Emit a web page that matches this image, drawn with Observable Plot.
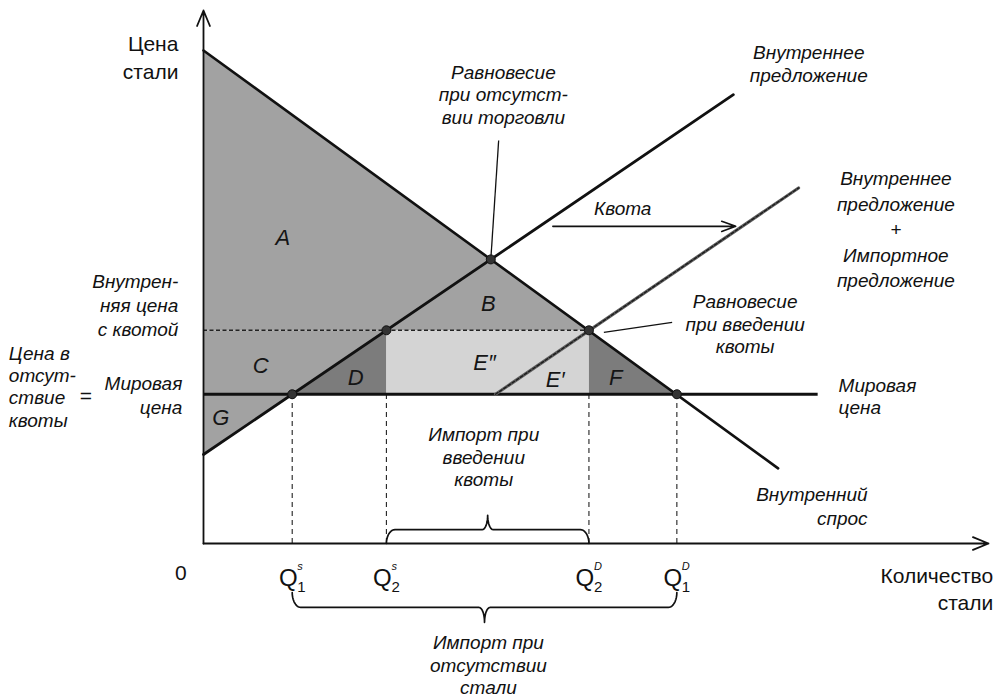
<!DOCTYPE html>
<html>
<head>
<meta charset="utf-8">
<script src="https://cdn.jsdelivr.net/npm/d3@7"></script>
<script src="https://cdn.jsdelivr.net/npm/@observablehq/plot@0.6"></script>
<style>
  html, body { margin: 0; padding: 0; background: #fff; }
  #chart svg { display: block; }
</style>
</head>
<body>
<div id="chart"></div>
<script>
// ---------------- data (quantity q, price p, in arbitrary units) ----------------
const worldPrice = 28;                 // world price = price without quota
const quotaPrice = 40;                 // domestic price with quota
const quantities = [11.3, 23.3, 49.1, 60.3];   // Q1s, Q2s, Q2D, Q1D
const qSub = ["1", "2", "2", "1"];
const qSup = ["s", "s", "D", "D"];
const demand = [[0, 92.5], [73.2, 14.1]];
const domesticSupply = [[0, 16.7], [67.5, 84.2]];
const supplyPlusQuota = [[37.2, 28], [75.8, 66.7]];
const worldPriceEnd = 78.3;
const equilibria = [[36.6, 53.3], [23.3, 40], [49.1, 40], [11.3, 28], [60.3, 28]];

const areaNames = ["A", "B", "C", "D", "E″", "E′", "F", "G"];
const areaVertices = [
  [[0, 92.5], [49.1, 40], [0, 40]],
  [[23.3, 40], [36.6, 53.3], [49.1, 40]],
  [[0, 40], [23.3, 40], [11.3, 28], [0, 28]],
  [[11.3, 28], [23.3, 40], [23.3, 28]],
  [[23.3, 40], [49.1, 40], [37.2, 28], [23.3, 28]],
  [[37.2, 28], [49.1, 40], [49.1, 28]],
  [[49.1, 40], [60.3, 28], [49.1, 28]],
  [[0, 28], [11.3, 28], [0, 16.7]]
];
const areaShade = ["mid", "mid", "mid", "dark", "light", "light", "dark", "mid"];
const areaLabelAt = [[10.1, 57.4], [36.3, 45], [7.3, 33.4], [19.4, 31.1], [35.8, 33.8], [44.8, 30.6], [52.5, 31.1], [2.2, 23.6]];

// annotation texts and their anchors (data units)
const italicCentered = [
  {t: "Равновесие\nпри отсутст-\nвии торговли", q: 38.2, p: 84.3},
  {t: "Внутреннее\nпредложение", q: 77.1, p: 90.1},
  {t: "Квота", q: 53.4, p: 62.9},
  {t: "Равновесие\nпри введении\nквоты", q: 69.0, p: 41.3},
  {t: "Импорт при\nвведении\nквоты", q: 35.7, p: 16.3},
  {t: "Импорт при\nотсутствии\nстали", q: 36.3, p: -22.7}
];
const stackedSupplyLabel = [{t: "Внутреннее\nпредложение\n+\nИмпортное\nпредложение", q: 88.2, p: 59.2}];
const italicRight = [
  {t: "Внутрен-\nняя цена\nс квотой", q: -3.2, p: 44.8},
  {t: "Мировая\nцена", q: -2.7, p: 27.9},
  {t: "Внутренний\nспрос", q: 84.6, p: 7.2}
];
const italicLeft = [
  {t: "Цена в\nотсут-\nствие\nквоты", q: -24.8, p: 29.5},
  {t: "Мировая\nцена", q: 80.9, p: 27.7}
];
const plainRight = [
  {t: "Цена\nстали", q: -3.2, p: 91.4},
  {t: "Количество\nстали", q: 100.6, p: -8.3}
];
const plainCentered = [
  {t: "0", q: -2.9, p: -5.6},
  {t: "=", q: -15.0, p: 27.6}
];
const leaders = [
  {q1: 37.6, p1: 75.6, q2: 36.6, p2: 53.3},
  {q1: 59.7, p1: 41.5, q2: 51.0, p2: 39.6}
];
const quotaArrow = [{q1: 44.5, p1: 59.5, q2: 67.8, p2: 59.5}];

// ---------------- helpers ----------------
const FONT = "Liberation Sans, Arial, Helvetica, sans-serif";
const shadeColor = {mid: "#a2a2a2", dark: "#7c7c7c", light: "#d4d4d4"};
const X = d => d[0], Y = d => d[1];

function bracePoints(qa, qb, pEnd, pBar, pTip, rEnd, rTip) {
  const qm = (qa + qb) / 2, pts = [], n = 10;
  for (let i = 0; i <= n; i++) { const t = i / n * Math.PI / 2; pts.push([qa + rEnd * (1 - Math.cos(t)), pEnd + (pBar - pEnd) * Math.sin(t)]); }
  for (let i = 0; i <= n; i++) { const t = i / n * Math.PI / 2; pts.push([qm - rTip + rTip * Math.sin(t), pBar + (pTip - pBar) * (1 - Math.cos(t))]); }
  for (let i = n; i >= 0; i--) { const t = i / n * Math.PI / 2; pts.push([qm + rTip - rTip * Math.sin(t), pBar + (pTip - pBar) * (1 - Math.cos(t))]); }
  for (let i = n; i >= 0; i--) { const t = i / n * Math.PI / 2; pts.push([qb - rEnd * (1 - Math.cos(t)), pEnd + (pBar - pEnd) * Math.sin(t)]); }
  return pts;
}

const marks = [];

// shaded surplus areas
areaVertices.forEach((pts, i) => {
  marks.push(Plot.line(pts, {x: X, y: Y, fill: shadeColor[areaShade[i]], stroke: "none", curve: "linear-closed"}));
});

// quota price (dotted) and dashed verticals
marks.push(Plot.ruleY([quotaPrice], {x1: 0, x2: quantities[2], stroke: "#222", strokeWidth: 1.6, strokeDasharray: "4 2.5"}));
marks.push(Plot.ruleX(quantities, {y1: 0, y2: worldPrice, stroke: "#222", strokeWidth: 1.1, strokeDasharray: "5 4"}));

// world price line
marks.push(Plot.ruleY([worldPrice], {x1: 0, x2: worldPriceEnd, stroke: "#111", strokeWidth: 3.2}));

// demand and supply curves
marks.push(Plot.line(demand, {x: X, y: Y, stroke: "#111", strokeWidth: 2.6}));
marks.push(Plot.line(domesticSupply, {x: X, y: Y, stroke: "#111", strokeWidth: 2.8}));
marks.push(Plot.line(supplyPlusQuota, {x: X, y: Y, stroke: "#5e5e5e", strokeWidth: 3.2}));
marks.push(Plot.line(supplyPlusQuota, {x: X, y: Y, stroke: "#1a1a1a", strokeWidth: 1.3, strokeDasharray: "3 2"}));

// axes with arrowheads
marks.push(Plot.arrow([{q1: 0, p1: 0, q2: 0, p2: 100}], {x1: "q1", y1: "p1", x2: "q2", y2: "p2", stroke: "#111", strokeWidth: 1.8, headLength: 14, headAngle: 45}));
marks.push(Plot.arrow([{q1: 0, p1: 0, q2: 100, p2: 0}], {x1: "q1", y1: "p1", x2: "q2", y2: "p2", stroke: "#111", strokeWidth: 1.8, headLength: 14, headAngle: 45}));

// quota arrow and leader lines
marks.push(Plot.arrow(quotaArrow, {x1: "q1", y1: "p1", x2: "q2", y2: "p2", stroke: "#111", strokeWidth: 1.6, headLength: 14, headAngle: 40}));
marks.push(Plot.link(leaders, {x1: "q1", y1: "p1", x2: "q2", y2: "p2", stroke: "#111", strokeWidth: 1.3}));

// braces
marks.push(Plot.line(bracePoints(quantities[1], quantities[2], 0, 2.6, 5.3, 1.1, 0.7), {x: X, y: Y, stroke: "#111", strokeWidth: 1.7}));
marks.push(Plot.line(bracePoints(quantities[0], quantities[3], -9.2, -12.0, -14.8, 1.1, 0.7), {x: X, y: Y, stroke: "#111", strokeWidth: 1.7}));

// equilibrium points
marks.push(Plot.dot(equilibria, {x: X, y: Y, r: 4.5, fill: "#333", stroke: "#111", strokeWidth: 1}));

// area letters
marks.push(Plot.text(areaNames, {x: (d, i) => areaLabelAt[i][0], y: (d, i) => areaLabelAt[i][1], text: d => d,
  fontSize: 22, fontStyle: "italic", fontFamily: FONT, fill: "#151515"}));

// annotations
const common = {x: "q", y: "p", text: "t", fontFamily: FONT, fill: "#111", lineAnchor: "middle"};
marks.push(Plot.text(italicCentered, {...common, fontSize: 19, fontStyle: "italic", lineHeight: 1.18, textAnchor: "middle"}));
marks.push(Plot.text(stackedSupplyLabel, {...common, fontSize: 19, fontStyle: "italic", lineHeight: 1.34, textAnchor: "middle"}));
marks.push(Plot.text(italicRight, {...common, fontSize: 19, fontStyle: "italic", lineHeight: 1.26, textAnchor: "end"}));
marks.push(Plot.text(italicLeft, {...common, fontSize: 19, fontStyle: "italic", lineHeight: 1.17, textAnchor: "start"}));
marks.push(Plot.text(plainRight, {...common, fontSize: 21, lineHeight: 1.3, textAnchor: "end"}));
marks.push(Plot.text(plainCentered, {...common, fontSize: 21, textAnchor: "middle"}));

// quantity tick labels Q with sub/superscripts
marks.push(Plot.text(quantities, {x: d => d, y: -6.6, text: () => "Q", dx: -4, fontSize: 24, fontFamily: FONT, fill: "#111", textAnchor: "middle"}));
marks.push(Plot.text(quantities, {x: d => d, y: -8.2, text: (d, i) => qSub[i], dx: 5, fontSize: 15, fontFamily: FONT, fill: "#111", textAnchor: "start"}));
marks.push(Plot.text(quantities, {x: d => d, y: -4.4, text: (d, i) => qSup[i], dx: 5, fontSize: 11, fontStyle: "italic", fontFamily: FONT, fill: "#111", textAnchor: "start"}));

const chart = Plot.plot({
  width: 993,
  height: 700,
  marginLeft: 203,
  marginRight: 5,
  marginTop: 10,
  marginBottom: 157,
  x: {domain: [0, 100], axis: null},
  y: {domain: [0, 100], axis: null},
  style: {background: "#fff", fontFamily: FONT, overflow: "visible"},
  marks
});
document.getElementById("chart").appendChild(chart);
</script>
</body>
</html>
